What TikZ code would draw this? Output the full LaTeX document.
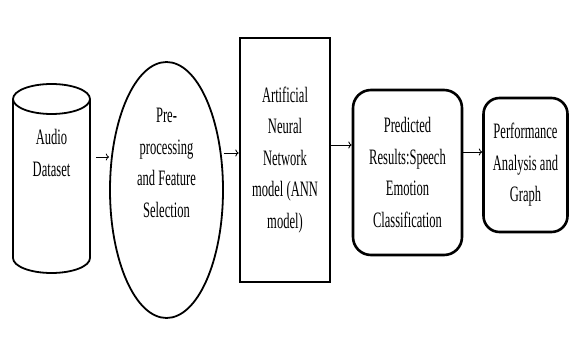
\documentclass[tikz,border=0pt]{standalone}
\usepackage{fontspec}
\setmainfont{Liberation Serif}[FakeStretch=0.57]
\usetikzlibrary{shapes.geometric, arrows.meta, positioning, calc}

\begin{document}
\begin{tikzpicture}[
    x=1pt, y=-1pt,
    >=To,
    txt/.style={align=center, font=\fontsize{22}{31.5}\selectfont, inner sep=0pt},
    store/.style={draw, line width=1.8pt, cylinder, shape border rotate=90, aspect=4.5, minimum width=77pt, minimum height=189pt},
    process/.style={draw, line width=1.8pt, ellipse, minimum width=113pt, minimum height=256pt},
    block/.style={draw, line width=2.6pt, minimum width=90pt, minimum height=244pt, txt},
    result/.style={draw, line width=2.6pt, rounded corners=18pt, txt},
    flow/.style={->, line width=0.8pt}
  ]
    \useasboundingbox (0,0) rectangle (569,358);

    % Stages
    \node[store] (dataset) at (51.5,189.5) {};
    \node[txt] (datasettxt) at (51.5,153) {Audio\\Dataset};
    \node[process] (prep) at (166.5,190) {};
    \node[txt] (preptxt) at (166.5,163) {Pre-\\processing\\and Feature\\Selection};
    \node[block] (ann) at (285,160) {Artificial\\Neural\\Network\\model (ANN\\model)};
    \node[result, minimum width=109pt, minimum height=165pt] (pred) at (407.5,172.5) {Predicted\\Results:Speech\\Emotion\\Classification};
    \node[result, minimum width=84pt, minimum height=134pt, rounded corners=16pt] (perf) at (525.5,165) {Performance\\Analysis and\\Graph};

    % Arrows
    \draw[flow, shorten <=5pt] (dataset.east |- 0,157) -- (prep.west |- 0,157);
    \draw[flow] (prep.east |- 0,153) -- (ann.west |- 0,153);
    \draw[flow] (ann.east |- 0,145) -- (pred.west |- 0,145);
    \draw[flow] (pred.east |- 0,152) -- (perf.west |- 0,152);
  \end{tikzpicture}
\end{document}
